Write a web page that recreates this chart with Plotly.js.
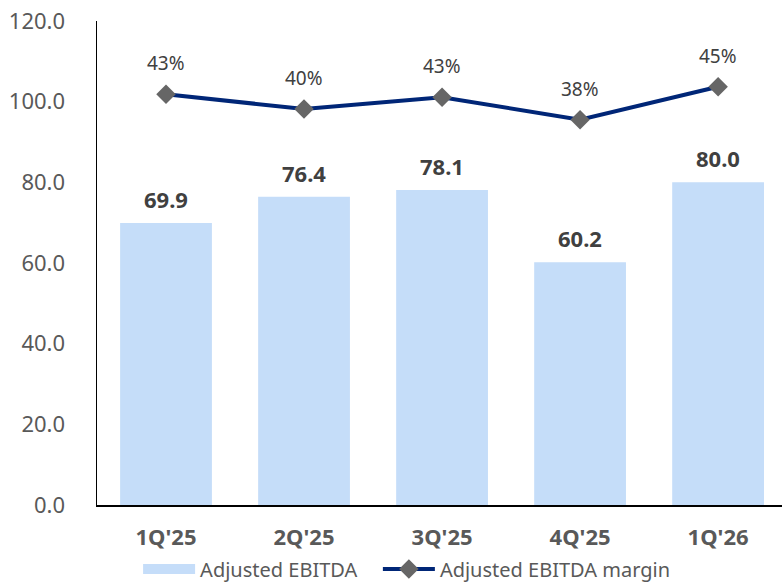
<!DOCTYPE html>
<html>
<head>
<meta charset="utf-8">
<script src="https://cdn.plot.ly/plotly-3.0.1.min.js"></script>
<style>html,body{margin:0;padding:0;background:#fff;}#chart{width:782px;height:582px;}</style>
</head>
<body>
<div id="chart"></div>
<script>
const categories = ["1Q'25", "2Q'25", "3Q'25", "4Q'25", "1Q'26"];
const ebitda = [69.9, 76.4, 78.1, 60.2, 80.0];
const margin = [0.434, 0.403, 0.428, 0.380, 0.450];
const yTickVals = [0, 20, 40, 60, 80, 100, 120];

const FONT = "Noto Sans, DejaVu Sans, sans-serif";
const barColor = "#C5DDF9";
const lineColor = "#002677";
const markerColor = "#666666";
const labelColor = "#404040";
const tickColor = "#595959";

const traces = [
  {
    type: "bar",
    name: "Adjusted EBITDA",
    x: categories,
    y: ebitda,
    width: 0.665,
    marker: {color: barColor},
    showlegend: false,
    hoverinfo: "skip"
  },
  {
    // legend swatch for the bars (wide flat rectangle like the original)
    type: "scatter",
    mode: "lines",
    name: "Adjusted EBITDA\u00a0\u00a0\u00a0",
    x: [null],
    y: [null],
    line: {color: barColor, width: 12},
    showlegend: true,
    hoverinfo: "skip"
  },
  {
    type: "scatter",
    mode: "lines+markers",
    name: "Adjusted EBITDA margin",
    x: categories,
    y: margin,
    yaxis: "y2",
    line: {color: lineColor, width: 4},
    marker: {symbol: "diamond", size: 15, color: markerColor},
    hoverinfo: "skip"
  }
];

const annotations = [];
categories.forEach((c, i) => {
  annotations.push({
    x: c, y: ebitda[i], xref: "x", yref: "y",
    text: ebitda[i].toFixed(1), showarrow: false,
    yanchor: "bottom", yshift: 7,
    font: {family: FONT, size: 22, color: labelColor, weight: "bold"}
  });
  annotations.push({
    x: c, y: margin[i], xref: "x", yref: "y2",
    text: Math.round(margin[i] * 100) + "%", showarrow: false,
    yanchor: "bottom", yshift: 16,
    font: {family: FONT, size: 19, color: labelColor}
  });
});

const layout = {
  width: 782, height: 582,
  margin: {l: 97, r: 0, t: 21, b: 77, pad: 0, autoexpand: false},
  paper_bgcolor: "#ffffff",
  plot_bgcolor: "rgba(0,0,0,0)",
  font: {family: FONT, color: tickColor},
  bargap: 0.335,
  showlegend: true,
  xaxis: {
    type: "category",
    range: [-0.5, 4.463],
    showline: true, linecolor: "#000000", linewidth: 1.5,
    showgrid: false, zeroline: false, ticks: "",
    ticklabelstandoff: 12,
    tickfont: {family: FONT, size: 22, color: tickColor, weight: "bold"}
  },
  yaxis: {
    range: [0, 120],
    tickvals: yTickVals,
    tickformat: ".1f",
    showline: true, linecolor: "#000000", linewidth: 1.5,
    showgrid: false, zeroline: false, ticks: "",
    ticklabelstandoff: 26,
    tickfont: {family: FONT, size: 22, color: tickColor}
  },
  yaxis2: {
    overlaying: "y", side: "right",
    range: [-0.4362, 0.5894],
    visible: false, showgrid: false, zeroline: false
  },
  legend: {
    orientation: "h",
    x: 0.06, xanchor: "left",
    y: -0.132, yanchor: "middle",
    font: {family: FONT, size: 20, color: tickColor},
    itemwidth: 52,
    bgcolor: "rgba(0,0,0,0)",
    tracegroupgap: 0
  },
  annotations: annotations
};

Plotly.newPlot("chart", traces, layout, {staticPlot: true, displayModeBar: false});
</script>
</body>
</html>
